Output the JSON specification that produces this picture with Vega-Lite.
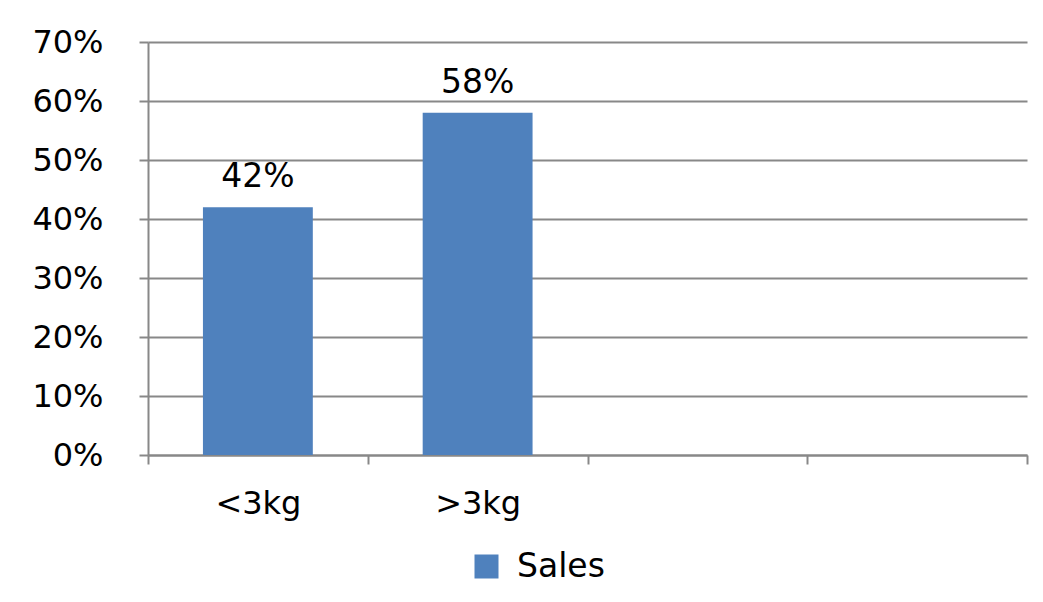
{
  "$schema": "https://vega.github.io/schema/vega-lite/v6.json",
  "autosize": "none",
  "width": 879,
  "height": 413,
  "padding": {"left": 148, "top": 42, "right": 16, "bottom": 147},
  "background": "white",
  "data": {"values": [
    {"category": "<3kg", "value": 0.42, "series": "Sales"},
    {"category": ">3kg", "value": 0.58, "series": "Sales"}
  ]},
  "encoding": {
    "x": {
      "field": "category", "type": "nominal", "sort": null,
      "scale": {"domain": ["<3kg", ">3kg", "c3", "c4"], "paddingInner": 0, "paddingOuter": 0},
      "axis": {
        "title": null, "labelAngle": 0, "tickBand": "extent",
        "labelExpr": "datum.value == 'c3' || datum.value == 'c4' ? '' : datum.value",
        "labelFont": "DejaVu Sans", "labelFontSize": 32, "labelColor": "#000000",
        "labelPadding": 24, "tickSize": 9, "tickColor": "#888888", "tickWidth": 2,
        "domainColor": "#888888", "domainWidth": 2, "grid": false
      }
    },
    "y": {
      "field": "value", "type": "quantitative",
      "scale": {"domain": [0, 0.7], "nice": false},
      "axis": {
        "title": null, "format": ".0%", "values": [0, 0.1, 0.2, 0.3, 0.4, 0.5, 0.6, 0.7],
        "labelFont": "DejaVu Sans", "labelFontSize": 32, "labelColor": "#000000",
        "labelPadding": 36, "tickSize": 9, "tickColor": "#888888", "tickWidth": 2,
        "domainColor": "#888888", "domainWidth": 2,
        "grid": true, "gridColor": "#888888", "gridWidth": 2
      }
    }
  },
  "layer": [
    {
      "mark": {"type": "bar", "width": {"band": 0.5}},
      "encoding": {
        "color": {
          "field": "series", "type": "nominal",
          "scale": {"range": ["#4F81BD"]},
          "legend": {
            "title": null, "orient": "none", "legendX": 322, "legendY": 508,
            "direction": "horizontal",
            "symbolType": "square", "symbolSize": 576, "symbolStrokeWidth": 0,
            "labelFont": "DejaVu Sans", "labelFontSize": 33, "labelColor": "#000000",
            "labelOffset": 14
          }
        }
      }
    },
    {
      "mark": {"type": "text", "dy": -30, "font": "DejaVu Sans", "fontSize": 33, "color": "#000000"},
      "encoding": {
        "text": {"field": "value", "type": "quantitative", "format": ".0%"}
      }
    }
  ],
  "config": {"view": {"stroke": null}}
}
